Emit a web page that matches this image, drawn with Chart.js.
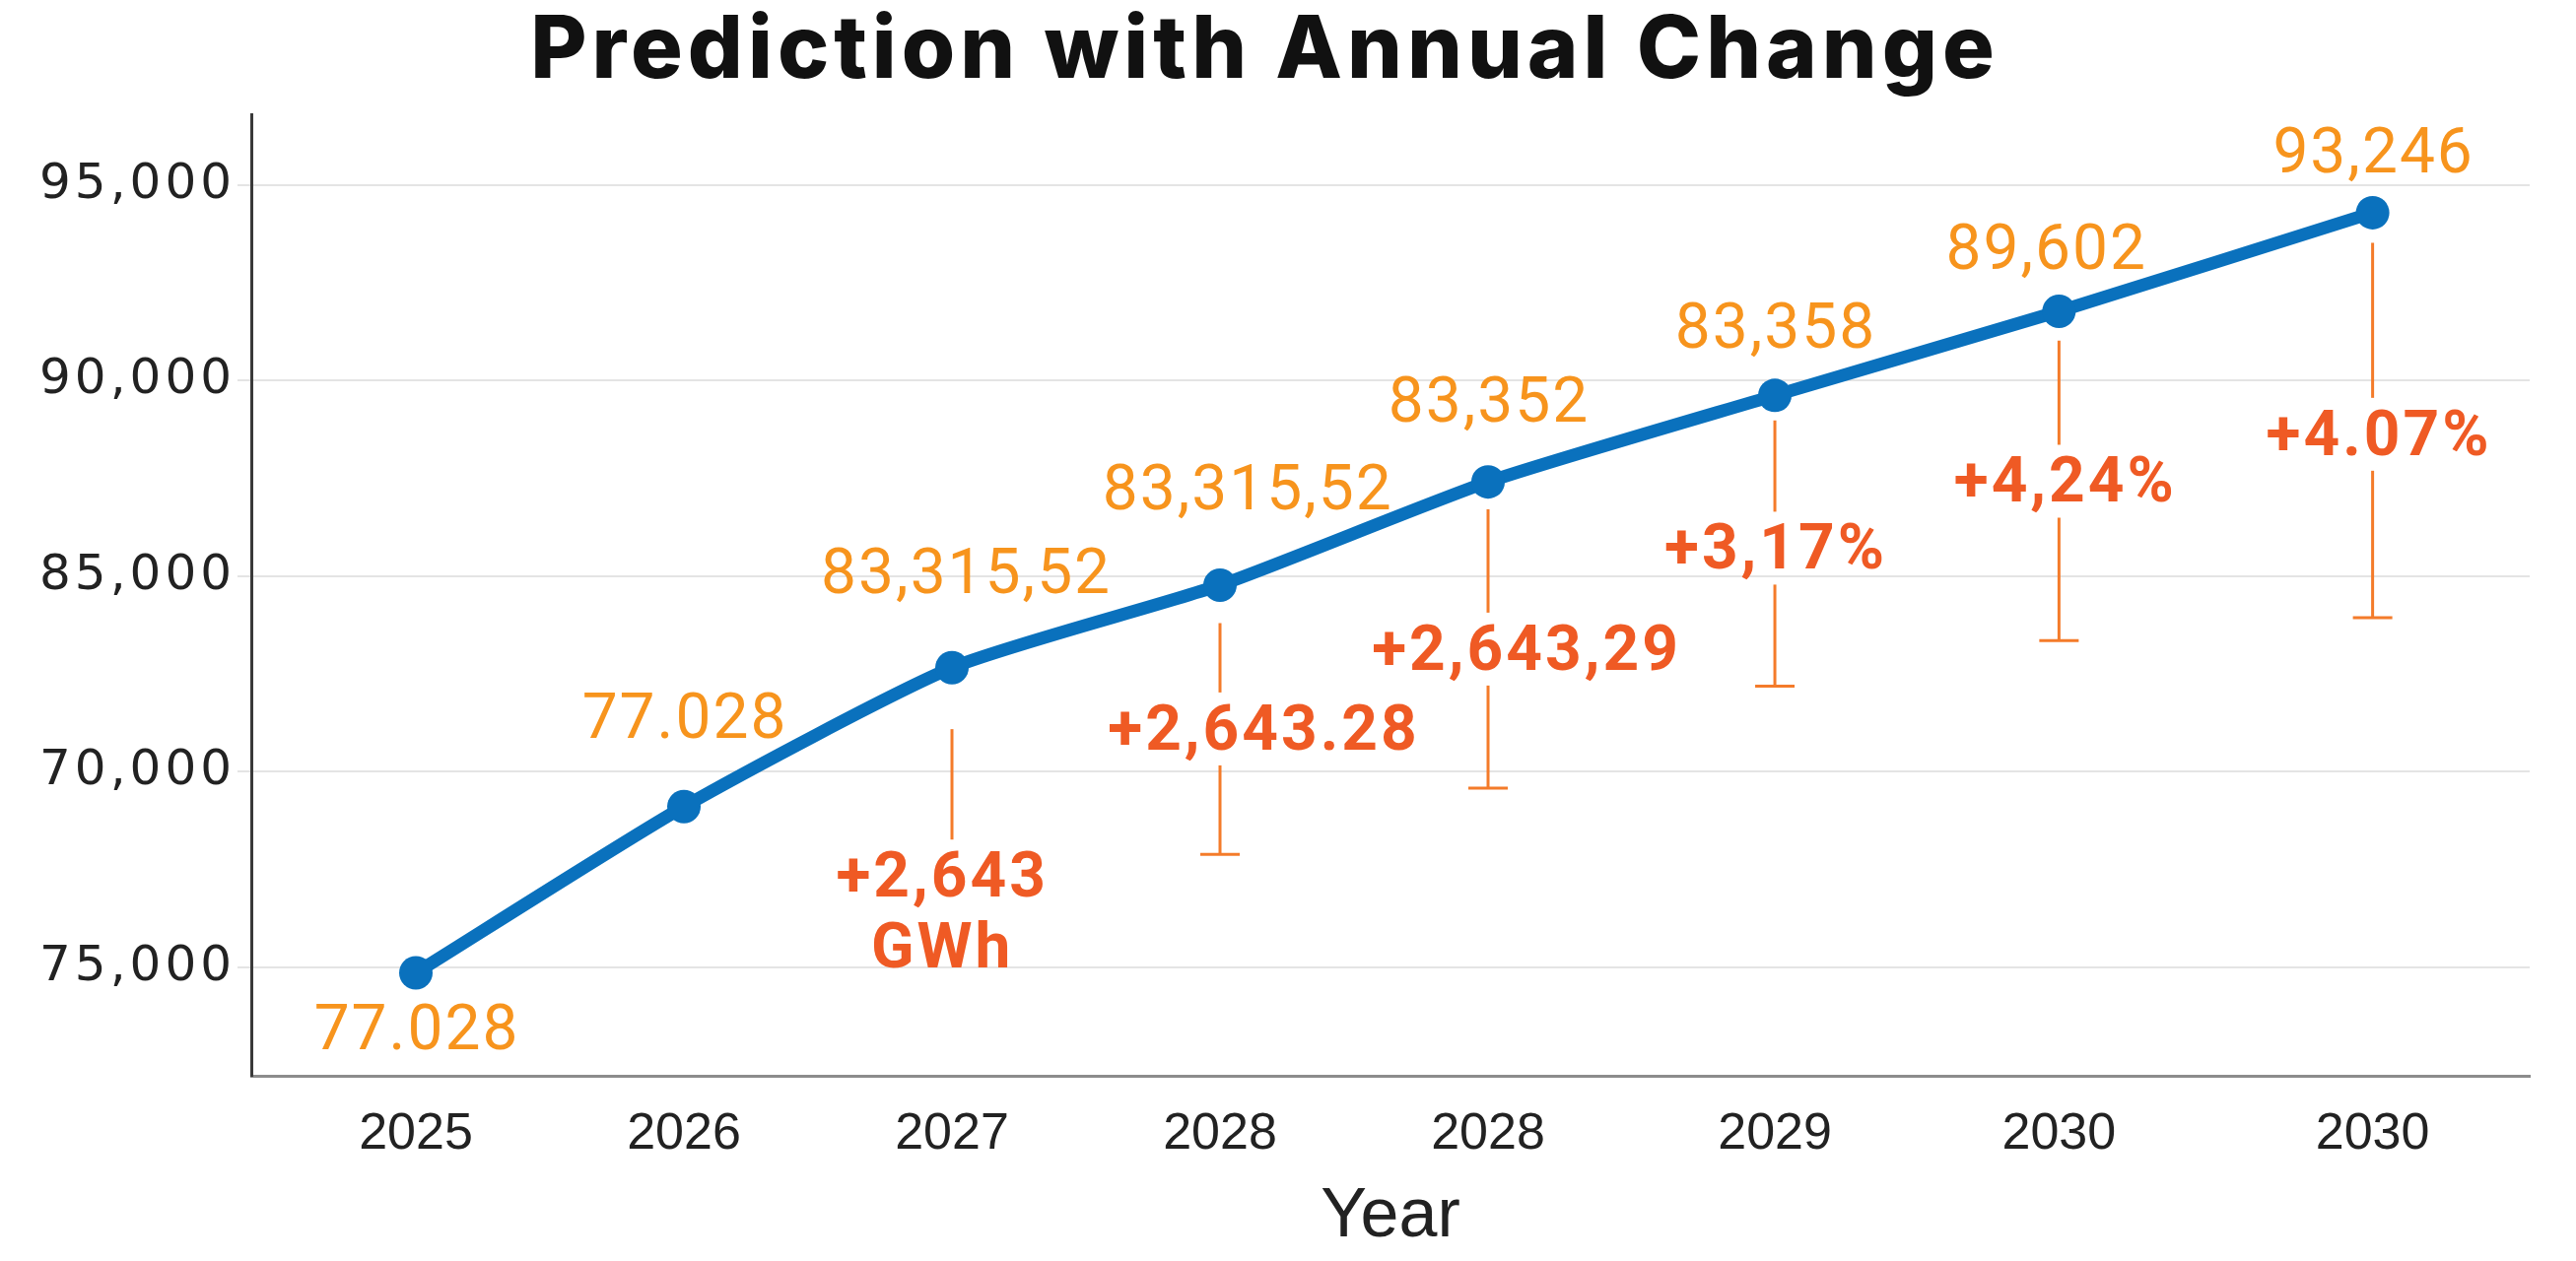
<!DOCTYPE html>
<html><head><meta charset="utf-8">
<script src="https://cdn.jsdelivr.net/npm/chart.js@4"></script>
<style>html,body{margin:0;padding:0;background:#fff}#wrap{width:2614px;height:1280px;position:relative}</style>
</head><body><div id="wrap"><canvas id="c"></canvas></div>
<script>
// ---- data ----
const years = ['2025','2026','2027','2028','2028','2029','2030','2030'];
const yearPos = [0, 1, 2, 3, 4, 5.07, 6.13, 7.3];
const predicted = [74860, 79110, 82660, 84770, 87410, 89620, 91770, 94290];
const valueLabels = ['77.028','77.028','83,315,52','83,315,52','83,352','83,358','89,602','93,246'];
const changeLabels = [null, null, ['+2,643','GWh'], ['+2,643.28'], ['+2,643,29'], ['+3,17%'], ['+4,24%'], ['+4.07%']];
const changeTop = [null, null, 81090, 83800, 86710, 88980, 91020, 93520];
const changeLow = [null, null, null, 77890, 79580, 82190, 83350, 83940];
const yTickValues = [75000, 80000, 85000, 90000, 95000];
const yTickLabels = ['75,000','70,000','85,000','90,000','95,000'];
// ---- annotation placement (axis units) ----
const valueLabelY = [73320, 81280, 84980, 87100, 89350, 91250, 93250, 95720];
const valueLabelDX = [0, 0, 0.05, 0.1, 0, 0, -0.05, 0];
const changeLabelY = [null, null, 77210, 80970, 83010, 85590, 87300, 88500];
const changeLabelDX = [0, 0, -0.04, 0.16, 0.14, 0, 0.02, 0.02];

const BLUE = '#0a71bd', ORANGE = '#f7941d', RED = '#ef5a24', WHISK = '#f47b2a';

function patchSpacing(obj, spacing) {
  if (!obj || obj._lsPatched) return;
  const key = obj.drawLabels ? 'drawLabels' : 'draw';
  const orig = obj[key];
  obj[key] = function (area) { const c = this.ctx; c.save(); c.letterSpacing = spacing; orig.call(this, area); c.restore(); };
  obj._lsPatched = true;
}

const annot = {
  id: 'annot',
  beforeDraw(chart) {
    patchSpacing(chart.scales.y, '4px');
    patchSpacing(chart.titleBlock, '5px');
  },
  beforeDatasetsDraw(chart) {
    const { ctx, scales: { x, y } } = chart;
    ctx.save();
    ctx.strokeStyle = WHISK; ctx.lineWidth = 3; ctx.lineCap = 'butt';
    const seg = (x1, y1, x2, y2) => { ctx.beginPath(); ctx.moveTo(x1, y1); ctx.lineTo(x2, y2); ctx.stroke(); };
    for (let i = 0; i < years.length; i++) {
      if (changeTop[i] == null) continue;
      const px = x.getPixelForValue(yearPos[i]);
      const top = y.getPixelForValue(changeTop[i]);
      const ty = y.getPixelForValue(changeLabelY[i]);
      const n = changeLabels[i].length;
      seg(px, top, px, ty - 42);
      if (changeLow[i] != null) {
        const b = y.getPixelForValue(changeLow[i]);
        seg(px, ty + (n - 1) * 72 + 32, px, b);
        seg(px - 20, b, px + 20, b);
      }
    }
    ctx.restore();
  },
  afterDatasetsDraw(chart) {
    const { ctx, scales: { x, y } } = chart;
    ctx.save();
    ctx.textAlign = 'center'; ctx.textBaseline = 'middle';
    ctx.letterSpacing = '2px';
    ctx.font = '64px Roboto';
    ctx.fillStyle = ORANGE;
    for (let i = 0; i < years.length; i++) {
      ctx.fillText(valueLabels[i], x.getPixelForValue(yearPos[i] + valueLabelDX[i]) + 1, y.getPixelForValue(valueLabelY[i]));
    }
    ctx.letterSpacing = '3px';
    ctx.font = 'bold 64px Roboto';
    ctx.fillStyle = RED;
    for (let i = 0; i < years.length; i++) {
      if (!changeLabels[i]) continue;
      const cx = x.getPixelForValue(yearPos[i] + changeLabelDX[i]) + 1;
      const cy = y.getPixelForValue(changeLabelY[i]);
      changeLabels[i].forEach((t, k) => ctx.fillText(t, cx, cy + k * 72));
    }
    ctx.restore();
  }
};

new Chart(document.getElementById('c'), {
  type: 'line',
  data: {
    datasets: [{
      data: yearPos.map((p, i) => ({ x: p, y: predicted[i] })),
      borderColor: BLUE, backgroundColor: BLUE,
      borderWidth: 13, tension: 0.2,
      pointRadius: 17, pointBackgroundColor: BLUE, pointBorderWidth: 0,
      clip: false
    }]
  },
  options: {
    responsive: true, maintainAspectRatio: false, animation: false, devicePixelRatio: 1,
    layout: { padding: { left: 0, right: 47, top: 0, bottom: 0 } },
    plugins: {
      legend: { display: false }, tooltip: { enabled: false },
      title: { display: true, text: 'Prediction with Annual Change', color: '#111',
        font: { family: 'Inter', size: 88, weight: 800 }, padding: { top: 0, bottom: 11 } }
    },
    scales: {
      x: {
        type: 'linear', min: -0.614, max: 7.886,
        afterBuildTicks: s => { s.ticks = yearPos.map(v => ({ value: v })); },
        afterFit: s => { s.height = 188; },
        grid: { display: false, drawTicks: false },
        border: { display: true, color: '#8c8c8c', width: 3 },
        ticks: { autoSkip: false, maxRotation: 0, padding: 28, color: '#222',
          font: { family: 'Liberation Sans', size: 52 },
          callback: (v, i) => years[i] },
        title: { display: true, text: 'Year', color: '#222',
          font: { family: 'Liberation Sans', size: 70 }, padding: { top: 0, bottom: 2 } }
      },
      y: {
        type: 'linear', min: 72230, max: 96790,
        afterBuildTicks: s => { s.ticks = yTickValues.map(v => ({ value: v })); },
        afterFit: s => { s.width = 255; },
        grid: { color: '#e4e4e4', lineWidth: 2, tickLength: 14 },
        border: { display: true, color: '#3a3a3a', width: 3 },
        ticks: { padding: 2, color: '#222', font: { family: 'DejaVu Sans', size: 50 },
          callback: (v, i) => yTickLabels[i] }
      }
    }
  },
  plugins: [annot]
});
</script></body></html>
